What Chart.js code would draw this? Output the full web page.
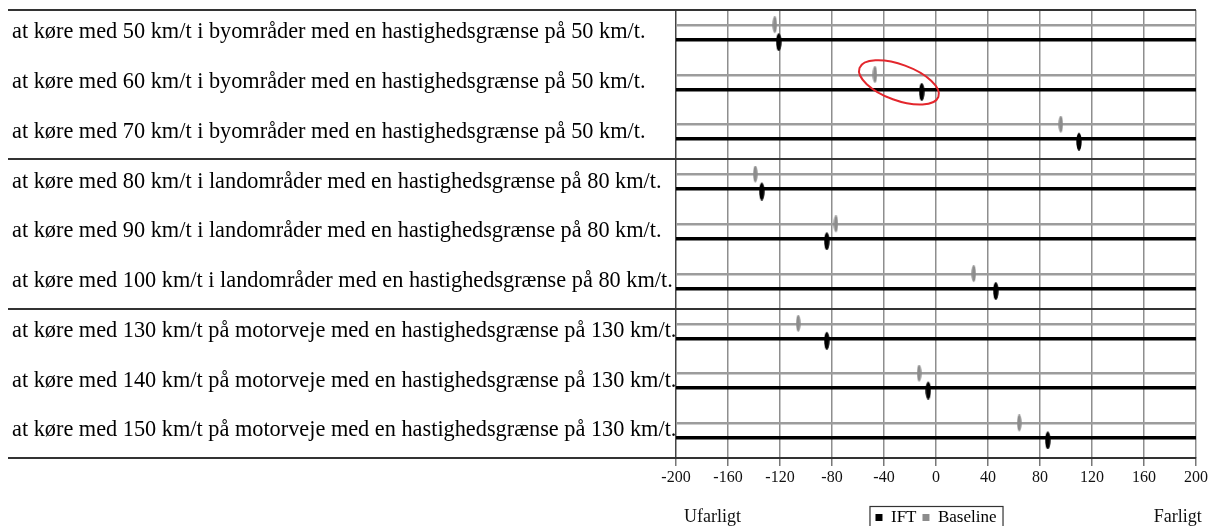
<!DOCTYPE html>
<html>
<head>
<meta charset="utf-8">
<script src="https://cdn.jsdelivr.net/npm/chart.js@4.4.1/dist/chart.umd.min.js"></script>
<style>
html,body{margin:0;padding:0;background:#fff;}
#wrap{width:1210px;height:526px;position:relative;}
</style>
</head>
<body>
<div id="wrap"><canvas id="c" width="1210" height="526"></canvas></div>
<script>
// ---------- data ----------
const categories = [
  'at køre med 50 km/t i byområder med en hastighedsgrænse på 50 km/t.',
  'at køre med 60 km/t i byområder med en hastighedsgrænse på 50 km/t.',
  'at køre med 70 km/t i byområder med en hastighedsgrænse på 50 km/t.',
  'at køre med 80 km/t i landområder med en hastighedsgrænse på 80 km/t.',
  'at køre med 90 km/t i landområder med en hastighedsgrænse på 80 km/t.',
  'at køre med 100 km/t i landområder med en hastighedsgrænse på 80 km/t.',
  'at køre med 130 km/t på motorveje med en hastighedsgrænse på 130 km/t.',
  'at køre med 140 km/t på motorveje med en hastighedsgrænse på 130 km/t.',
  'at køre med 150 km/t på motorveje med en hastighedsgrænse på 130 km/t.'
];
const groupSizes = [3, 3, 3];
const iftValues      = [-121, -11, 110, -134, -84, 46, -84, -6, 86];
const baselineValues = [-124, -47,  96, -139, -77, 29, -106, -13, 64];
const seriesNames = ['IFT', 'Baseline'];
const xMin = -200, xMax = 200, xStep = 40;
const edgeLabels = ['Ufarligt', 'Farligt'];
const highlightRow = 1;

// ---------- layout / style constants ----------
const GRAY_OFF = 0.305, BLACK_OFF = 0.596, LABEL_OFF = 0.45;
const rowCount = categories.length;
const FONT = '"Liberation Serif", "Times New Roman", serif';
Chart.defaults.font.family = FONT;

const sepValues = [0];
groupSizes.reduce((acc, n) => { acc += n; sepValues.push(acc); return acc; }, 0);
const lineTicks = [];
sepValues.forEach(v => lineTicks.push(v));
categories.forEach((c, i) => { lineTicks.push(i + GRAY_OFF); lineTicks.push(i + BLACK_OFF); });
lineTicks.sort((a, b) => a - b);

function kindOf(v) {
  if (sepValues.some(s => Math.abs(s - v) < 1e-6)) return 'sep';
  const f = v - Math.floor(v);
  return Math.abs(f - GRAY_OFF) < 1e-6 ? 'gray' : 'black';
}

function makeMarker(color, w, h, dy) {
  const cv = document.createElement('canvas');
  cv.width = w; cv.height = h + Math.abs(dy) * 2;
  const c = cv.getContext('2d');
  c.fillStyle = color;
  c.beginPath();
  c.ellipse(w / 2, cv.height / 2 + dy, w / 2 - 0.3, h / 2, 0, 0, Math.PI * 2);
  c.fill();
  return cv;
}
const blackMarker = makeMarker('#000000', 6, 18, 2.5);
const grayMarker = makeMarker('#8c8c8c', 5, 17, -0.5);

const iftPoints = iftValues.map((v, i) => ({ x: v, y: i + BLACK_OFF }));
const basePoints = baselineValues.map((v, i) => ({ x: v, y: i + GRAY_OFF }));

// ---------- plugins ----------
const legendFrame = {
  id: 'legendFrame',
  afterDraw(chart) {
    const lg = chart.legend;
    if (!lg || !lg.legendHitBoxes || !lg.legendHitBoxes.length) return;
    const hb = lg.legendHitBoxes;
    const left = Math.min(...hb.map(b => b.left)) - 6;
    const right = Math.max(...hb.map(b => b.left + b.width)) + 6;
    const top = Math.min(...hb.map(b => b.top)) - 3;
    const ctx = chart.ctx;
    ctx.save();
    ctx.strokeStyle = '#333';
    ctx.lineWidth = 1.2;
    ctx.strokeRect(left + 0.5, top + 0.5, right - left, 40);
    ctx.restore();
  }
};

const edgeText = {
  id: 'edgeText',
  afterDraw(chart) {
    const xs = chart.scales.x;
    const lg = chart.legend;
    let yc = chart.height - 10;
    if (lg && lg.legendHitBoxes && lg.legendHitBoxes.length) {
      const b = lg.legendHitBoxes[0];
      yc = b.top + b.height / 2;
    }
    const ctx = chart.ctx;
    ctx.save();
    ctx.font = '18px ' + FONT;
    ctx.fillStyle = '#111';
    ctx.textAlign = 'center';
    ctx.textBaseline = 'middle';
    ctx.fillText(edgeLabels[0], xs.getPixelForValue(-172), yc);
    ctx.fillText(edgeLabels[1], xs.getPixelForValue(186), yc);
    ctx.restore();
  }
};

const highlight = {
  id: 'highlight',
  afterDatasetsDraw(chart) {
    const xs = chart.scales.x, ys = chart.scales.y;
    const cx = xs.getPixelForValue(-28.5);
    const cy = ys.getPixelForValue(highlightRow + 0.455);
    const rx = Math.abs(xs.getPixelForValue(-28.5 + 32.3) - cx);
    const ry = Math.abs(ys.getPixelForValue(highlightRow + 0.455 + 0.36) - cy);
    const ctx = chart.ctx;
    ctx.save();
    ctx.strokeStyle = '#e3262c';
    ctx.lineWidth = 2;
    ctx.beginPath();
    ctx.ellipse(cx, cy, rx, ry, 0.35, 0, Math.PI * 2);
    ctx.stroke();
    ctx.restore();
  }
};

// ---------- chart ----------
new Chart(document.getElementById('c'), {
  type: 'scatter',
  data: {
    datasets: [
      { label: seriesNames[0], data: iftPoints, xAxisID: 'x', yAxisID: 'y',
        pointStyle: blackMarker, pointRadius: 5, backgroundColor: '#000000', borderColor: '#000000', borderWidth: 0 },
      { label: seriesNames[1], data: basePoints, xAxisID: 'x', yAxisID: 'y',
        pointStyle: grayMarker, pointRadius: 5, backgroundColor: '#8c8c8c', borderColor: '#8c8c8c', borderWidth: 0 }
    ]
  },
  options: {
    responsive: false,
    animation: false,
    events: [],
    layout: { padding: { left: 12, right: 14, top: 10, bottom: -10 } },
    scales: {
      x: {
        type: 'linear', position: 'bottom', min: xMin, max: xMax,
        ticks: { stepSize: xStep, font: { size: 16 }, color: '#111', padding: 2, maxRotation: 0, autoSkip: false },
        grid: {
          color: ctx => (ctx.tick && ctx.tick.value === xMin) ? '#444' : '#8e8e8e',
          lineWidth: 1.5, tickLength: 8, tickColor: '#777', tickWidth: 1.5
        },
        border: { display: true, color: '#333', width: 1.5 },
        afterFit: s => { s.height = 45; }
      },
      yLines: {
        type: 'linear', position: 'left', reverse: true, min: 0, max: rowCount, weight: 0,
        afterBuildTicks: s => { s.ticks = lineTicks.map(v => ({ value: v })); },
        ticks: { display: false },
        grid: {
          drawTicks: true, tickLength: 668,
          color: ctx => { const k = kindOf(ctx.tick.value); return k === 'sep' ? '#333' : (k === 'gray' ? '#9c9c9c' : '#000'); },
          lineWidth: ctx => { const k = kindOf(ctx.tick.value); return k === 'sep' ? 2 : (k === 'gray' ? 2.5 : 3.5); },
          tickColor: ctx => kindOf(ctx.tick.value) === 'sep' ? '#333' : 'rgba(0,0,0,0)',
          tickWidth: 2
        },
        border: { display: false },
        afterFit: s => { s.width = 0; s.paddingTop = 0; s.paddingBottom = 0; }
      },
      y: {
        type: 'linear', position: 'left', reverse: true, min: 0, max: rowCount, weight: 1,
        afterBuildTicks: s => { s.ticks = categories.map((c, i) => ({ value: i + LABEL_OFF })); },
        ticks: { callback: (v, i) => categories[i], font: { size: 22.3 }, color: '#000', crossAlign: 'far', autoSkip: false },
        grid: { display: false },
        border: { display: false },
        afterFit: s => { s.width = 664; s.paddingTop = 0; s.paddingBottom = 0; }
      }
    },
    plugins: {
      legend: {
        display: true, position: 'bottom', fullSize: false,
        labels: { boxWidth: 7, boxHeight: 7, font: { size: 17 }, color: '#000', padding: 6 }
      },
      tooltip: { enabled: false },
      title: { display: false }
    }
  },
  plugins: [highlight, edgeText, legendFrame]
});
</script>
</body>
</html>
